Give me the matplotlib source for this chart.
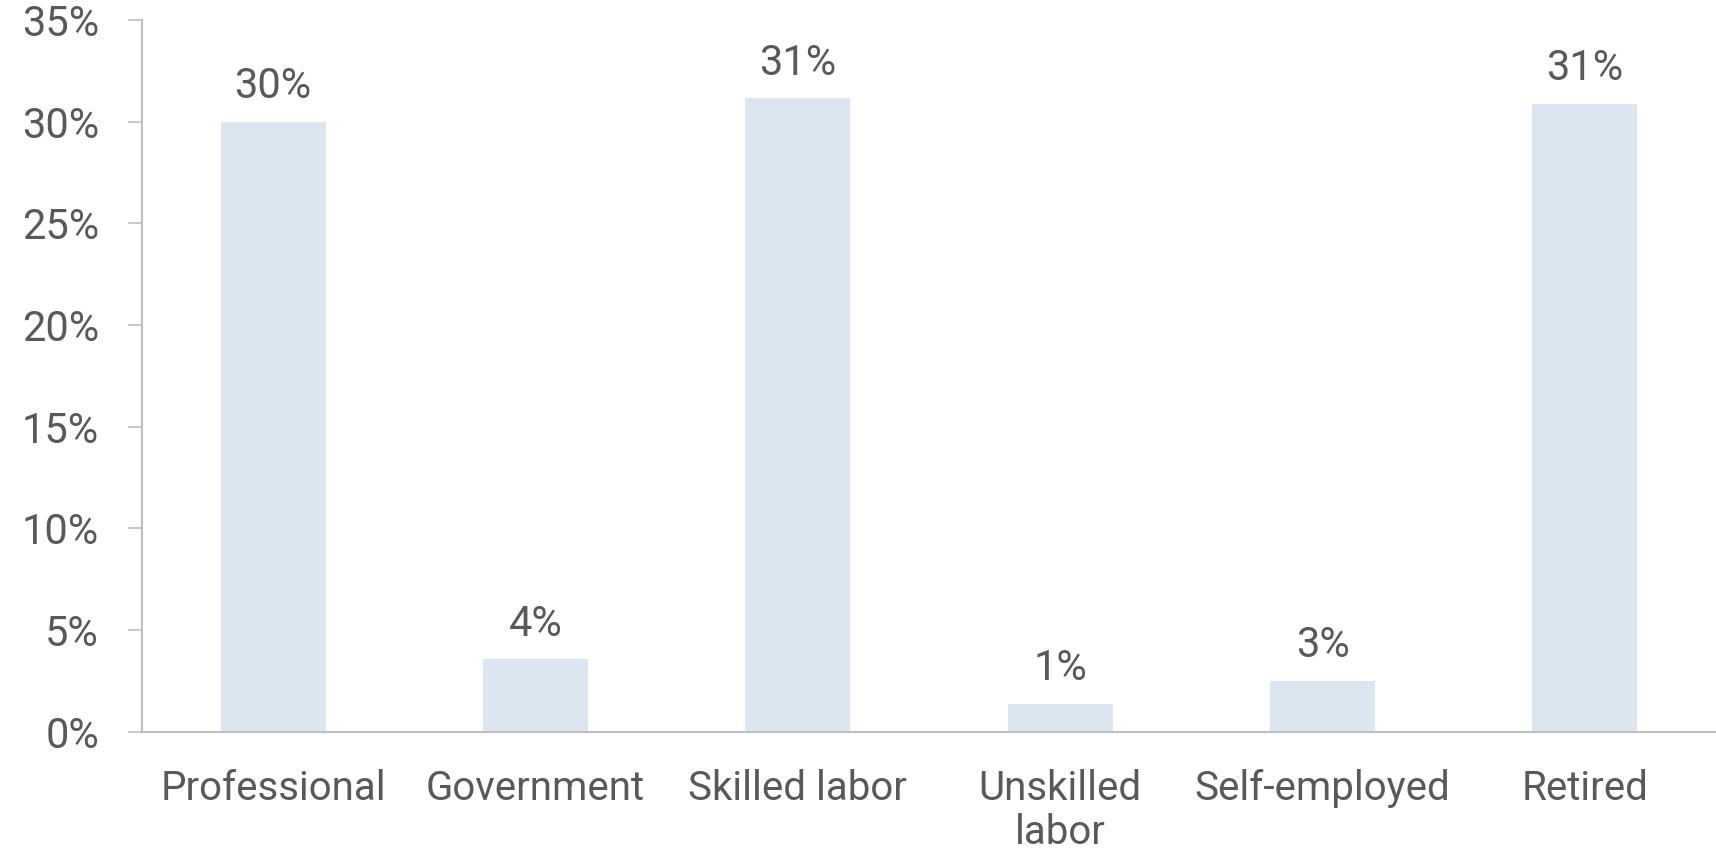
import matplotlib.pyplot as plt

categories = ['Professional', 'Government', 'Skilled labor', 'Unskilled\nlabor', 'Self-employed', 'Retired']
values = [30.0, 3.55, 31.15, 1.35, 2.48, 30.87]
value_labels = ['30%', '4%', '31%', '1%', '3%', '31%']
yticks = [0, 5, 10, 15, 20, 25, 30, 35]

plt.rcParams['font.family'] = ['Roboto', 'DejaVu Sans']
text_col = '#595959'
axis_col = '#BFBFBF'
fs = 30

fig = plt.figure(figsize=(17.16, 8.56), dpi=100)
ax = fig.add_axes([142 / 1716, 1 - 731.5 / 856, 1 - 142 / 1716, (731.5 - 20) / 856])

x = range(len(categories))
bars = ax.bar(x, values, width=0.4, color='#DCE6F1')

for i, v in enumerate(values):
    ax.annotate(value_labels[i], (i, v), xytext=(0, 17), textcoords='offset points',
                ha='center', va='baseline', fontsize=fs, color=text_col)

ax.set_xlim(-0.5, len(categories) - 0.5)
ax.set_ylim(0, 35)
ax.set_yticks(yticks)
ax.set_yticklabels([f'{t}%' for t in yticks], va='center_baseline')
ax.set_xticks(list(x))
ax.set_xticklabels(categories, linespacing=1.15)

ax.tick_params(axis='y', length=10, width=1.2, color=axis_col, pad=21, labelsize=fs, labelcolor=text_col)
ax.tick_params(axis='x', length=0, pad=27, labelsize=29, labelcolor=text_col)

for s in ['top', 'right']:
    ax.spines[s].set_visible(False)
for s in ['left', 'bottom']:
    ax.spines[s].set_color(axis_col)
    ax.spines[s].set_linewidth(1.5)

fig.savefig('out.png', dpi=100)
